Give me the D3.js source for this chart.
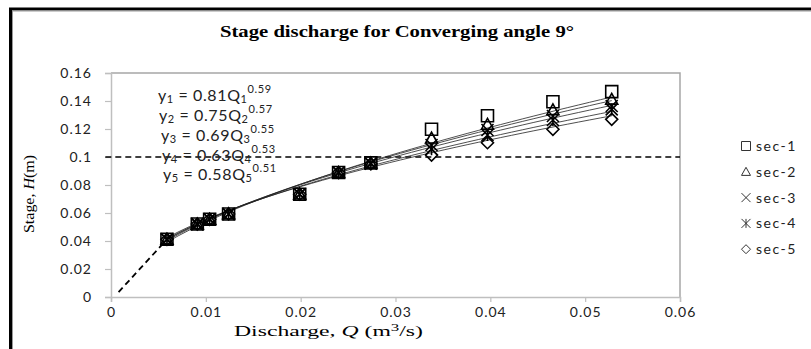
<!DOCTYPE html>
<html><head><meta charset="utf-8">
<script src="https://cdn.jsdelivr.net/npm/d3@7"></script>
<style>body{margin:0;background:#fff}svg{display:block}</style>
</head><body><svg id="c" width="811" height="349"></svg>
<script>
const Q = [0.0059, 0.0091, 0.0104, 0.0124, 0.0199, 0.0240, 0.0274, 0.0338, 0.0397, 0.0466, 0.0528];
const sec1 = [0.0412, 0.0521, 0.0555, 0.0593, 0.0734, 0.0889, 0.0958, 0.1198, 0.1295, 0.1395, 0.1467];
const sec2 = [0.0412, 0.0521, 0.0555, 0.0593, 0.0734, 0.0889, 0.0956, 0.1134, 0.1233, 0.1336, 0.1412];
const sec3 = [0.0412, 0.0521, 0.0555, 0.0593, 0.0734, 0.0889, 0.0955, 0.1086, 0.1193, 0.1293, 0.1364];
const sec4 = [0.0412, 0.0521, 0.0555, 0.0593, 0.0734, 0.0889, 0.0953, 0.1055, 0.1157, 0.1264, 0.1340];
const sec5 = [0.0412, 0.0521, 0.0555, 0.0593, 0.0734, 0.0889, 0.0951, 0.1014, 0.1102, 0.1198, 0.1269];
const seriesNames = ["sec-1", "sec-2", "sec-3", "sec-4", "sec-5"];
const coefA = [0.81, 0.75, 0.69, 0.63, 0.58];
const expB = [0.59, 0.57, 0.55, 0.53, 0.51];
const xTicks = [0, 0.01, 0.02, 0.03, 0.04, 0.05, 0.06];
const yTicks = [0, 0.02, 0.04, 0.06, 0.08, 0.1, 0.12, 0.14, 0.16];
const refH = 0.1;
const refQ = [-0.0006, 0.06];
const originQ = [0.0008, 0.0059];
const originH = [0.0035, 0.0412];

const svg = d3.select("#c");
const x = d3.scaleLinear().domain([0, 0.06]).range([111, 680]);
const y = d3.scaleLinear().domain([0, 0.16]).range([297, 73]);
const data = [sec1, sec2, sec3, sec4, sec5];

// outer frame
svg.append("rect").attr("x", 10.5).attr("y", 9).attr("width", 900).attr("height", 500)
  .attr("fill", "none").attr("stroke", "#000").attr("stroke-width", 3);
svg.append("rect").attr("x", 12.5).attr("y", 11).attr("width", 900).attr("height", 500)
  .attr("fill", "none").attr("stroke", "#999").attr("stroke-width", 1);

// plot box
svg.append("path").attr("d", `M${x(0)},${y(0.16)}H${x(0.06)}V${y(0)}`)
  .attr("fill", "none").attr("stroke", "#a6a6a6").attr("stroke-width", 1.5);

// axes
const tickFont = "Lato, 'Open Sans', sans-serif";
const gx = svg.append("g").attr("transform", `translate(0,${y(0)})`)
  .call(d3.axisBottom(x).tickValues(xTicks).tickSize(5).tickPadding(5).tickFormat(d => d === 0 ? "0" : String(+d.toFixed(2))));
const gy = svg.append("g").attr("transform", `translate(${x(0)},0)`)
  .call(d3.axisLeft(y).tickValues(yTicks).tickSize(6).tickPadding(13).tickFormat(d => d === 0 ? "0" : String(+d.toFixed(2))));
[gx, gy].forEach(g => {
  g.select(".domain").attr("stroke", "#bfbfbf").attr("stroke-width", 1.5);
  g.selectAll(".tick line").attr("stroke", "#bfbfbf").attr("stroke-width", 1.2);
  g.selectAll(".tick text").attr("font-family", tickFont).attr("font-size", 14)
    .attr("letter-spacing", 1).attr("fill", "#222");
});

// dashed lines
svg.append("line").attr("x1", x(refQ[0])).attr("x2", x(refQ[1])).attr("y1", y(refH)).attr("y2", y(refH))
  .attr("stroke", "#000").attr("stroke-width", 1.6).attr("stroke-dasharray", "6,4");
svg.append("line").attr("x1", x(originQ[0])).attr("x2", x(originQ[1])).attr("y1", y(originH[0])).attr("y2", y(originH[1]))
  .attr("stroke", "#000").attr("stroke-width", 1.8).attr("stroke-dasharray", "6,4");

// trend lines (power fits)
const qFit = d3.range(0, 41).map(i => Q[0] + (Q[Q.length - 1] - Q[0]) * i / 40);
const line = d3.line().x(d => x(d[0])).y(d => y(d[1]));
coefA.forEach((a, i) => {
  svg.append("path").attr("d", line(qFit.map(q => [q, a * Math.pow(q, expB[i])])))
    .attr("fill", "none").attr("stroke", "#222").attr("stroke-width", 0.8);
});

// markers
const S = 6;
const markerPath = [
  (s) => `M${-s},${-s}H${s}V${s}H${-s}Z`,
  (s) => `M0,${-s}L${s},${s * 0.8}H${-s}Z`,
  (s) => `M${-s},${-s}L${s},${s}M${-s},${s}L${s},${-s}`,
  (s) => `M${-s},${-s}L${s},${s}M${-s},${s}L${s},${-s}M0,${-s}V${s}`,
  (s) => `M0,${-s}L${s},0L0,${s}L${-s},0Z`
];
data.forEach((vals, si) => {
  svg.append("g").selectAll("path").data(vals).join("path")
    .attr("transform", (d, i) => `translate(${x(Q[i])},${y(d)})`)
    .attr("d", markerPath[si](S))
    .attr("fill", "none").attr("stroke", "#000").attr("stroke-width", 1.6);
});

// title
svg.append("text").attr("x", 397).attr("y", 37).attr("text-anchor", "middle")
  .attr("font-family", "'Liberation Serif', 'Times New Roman', serif").attr("font-weight", "bold")
  .attr("font-size", 17).attr("textLength", 354).attr("lengthAdjust", "spacingAndGlyphs")
  .text("Stage discharge for Converging angle 9°");

// axis titles
const xt = svg.append("text").attr("x", 234).attr("y", 336)
  .attr("font-family", "'Liberation Serif', serif").attr("font-size", 14)
  .attr("textLength", 189).attr("lengthAdjust", "spacingAndGlyphs");
xt.append("tspan").text("Discharge, ");
xt.append("tspan").attr("font-style", "italic").text("Q");
xt.append("tspan").text(" (m");
xt.append("tspan").attr("font-size", 10).attr("dy", -5).text("3");
xt.append("tspan").attr("dy", 5).text("/s)");

const yt = svg.append("text").attr("transform", "translate(34,233) rotate(-90)")
  .attr("font-family", "'Liberation Serif', serif").attr("font-size", 14)
  .attr("textLength", 78).attr("lengthAdjust", "spacingAndGlyphs");
yt.append("tspan").text("Stage, ");
yt.append("tspan").attr("font-style", "italic").text("H");
yt.append("tspan").text("(m)");

// equations
const eqX = [158, 159, 161, 162, 163];
const eqY = [101, 121, 141, 161, 180];
coefA.forEach((a, i) => {
  const t = svg.append("text").attr("x", eqX[i]).attr("y", eqY[i])
    .attr("font-family", tickFont).attr("font-size", 16).attr("letter-spacing", 0.6).attr("fill", "#222");
  t.append("tspan").text("y");
  t.append("tspan").attr("font-size", 11).attr("dy", 2).text(i + 1);
  t.append("tspan").attr("dy", -2).text(` = ${a.toFixed(2)}Q`);
  t.append("tspan").attr("font-size", 11).attr("dy", 2).text(i + 1);
  t.append("tspan").attr("font-size", 11).attr("dy", -10).text(expB[i].toFixed(2));
});

// legend
seriesNames.forEach((n, i) => {
  const g = svg.append("g").attr("transform", `translate(746,${146 + i * 25.8})`);
  g.append("path").attr("d", markerPath[i](4.5)).attr("fill", "none").attr("stroke", "#333").attr("stroke-width", 1);
  g.append("text").attr("x", 10).attr("y", 5).attr("font-family", tickFont).attr("font-size", 14)
    .attr("letter-spacing", 1.5).attr("fill", "#222").text(n);
});
</script></body></html>
